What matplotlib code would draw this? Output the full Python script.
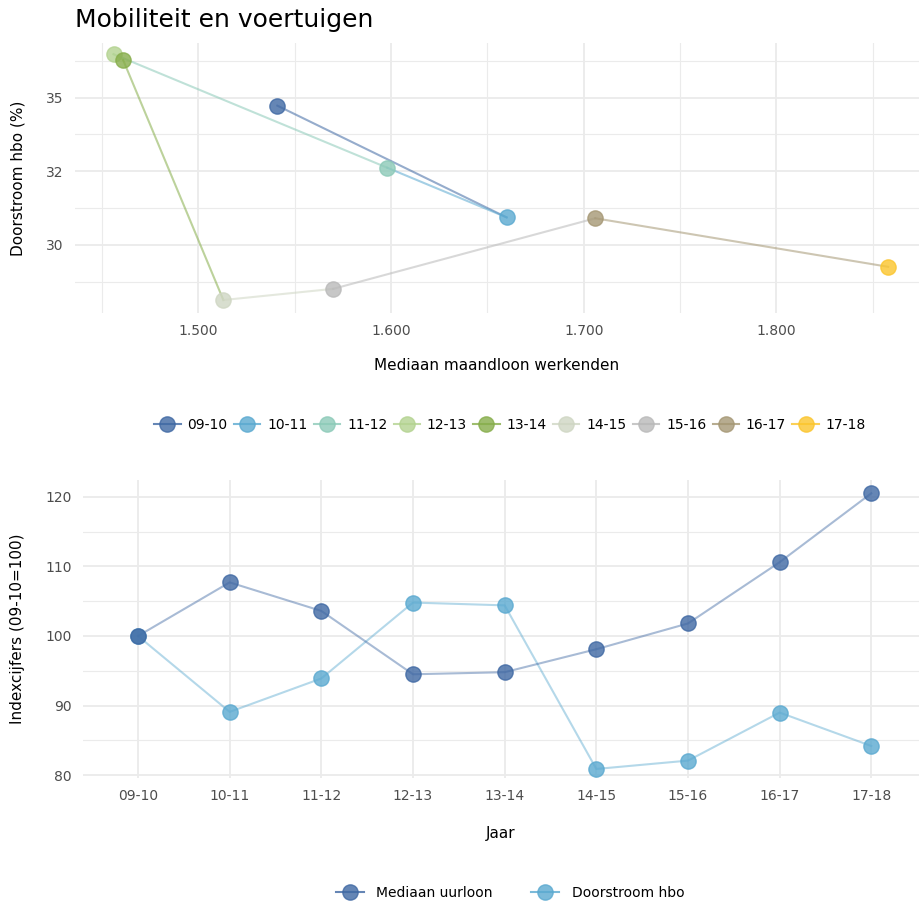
import matplotlib.pyplot as plt
from matplotlib.lines import Line2D
from matplotlib.ticker import FixedLocator

# Data
jaren = ['09-10', '10-11', '11-12', '12-13', '13-14', '14-15', '15-16', '16-17', '17-18']
maandloon = [1541, 1660, 1598, 1456, 1461, 1513, 1570, 1706, 1858]
doorstroom = [34.73, 30.93, 32.62, 36.48, 36.28, 28.12, 28.50, 30.90, 29.25]
jaar_kleuren = ['#3f68a3', '#5aa9d0', '#8ccab8', '#b3d390', '#86ad4a',
                '#cfd6c3', '#b9b9b9', '#a59774', '#fbc52c']

index_uurloon = [100, 107.7, 103.6, 94.5, 94.8, 98.1, 101.8, 110.6, 120.5]
index_doorstroom = [100, 89.1, 93.9, 104.8, 104.4, 80.9, 82.1, 89.0, 84.2]
reeks_namen = ['Mediaan uurloon', 'Doorstroom hbo']
reeks_kleuren = ['#3f68a3', '#5aa9d0']

x_ticks = [1500, 1600, 1700, 1800]
x_ticklabels = ['1.500', '1.600', '1.700', '1.800']
y_ticks = [30, 32.5, 35]
y_ticklabels = ['30', '32', '35']

plt.rcParams['font.family'] = ['DejaVu Sans']
grid_col = '#ebebeb'
tick_col = '#4d4d4d'


def style_axis(ax):
    for s in ax.spines.values():
        s.set_visible(False)
    ax.tick_params(length=0, colors=tick_col, labelsize=10, pad=8)
    ax.grid(True, which='major', color=grid_col, linewidth=1.3)
    ax.grid(True, which='minor', color=grid_col, linewidth=0.8)
    ax.set_axisbelow(True)


fig = plt.figure(figsize=(9.19, 9.09), dpi=100)

# Top: scatter path
ax1 = fig.add_axes([0.0816, 0.6557, 0.9184, 0.297])
style_axis(ax1)
for i in range(len(jaren) - 1):
    ax1.plot(maandloon[i:i + 2], doorstroom[i:i + 2], color=jaar_kleuren[i],
             alpha=0.55, linewidth=1.5, zorder=2)
for i in range(len(jaren)):
    ax1.plot(maandloon[i], doorstroom[i], 'o', ms=11, color=jaar_kleuren[i],
             mec=jaar_kleuren[i], alpha=0.8, zorder=3)
ax1.set_xlim(1436, 1874)
ax1.set_ylim(27.68, 36.86)
ax1.set_xticks(x_ticks)
ax1.set_xticklabels(x_ticklabels)
ax1.xaxis.set_minor_locator(FixedLocator([1450, 1550, 1650, 1750, 1850]))
ax1.set_yticks(y_ticks)
ax1.set_yticklabels(y_ticklabels)
ax1.yaxis.set_minor_locator(FixedLocator([28.75, 31.25, 33.75, 36.25]))
ax1.tick_params(which='minor', length=0)
ax1.set_xlabel('Mediaan maandloon werkenden', fontsize=11)
ax1.xaxis.set_label_coords(0.5, -0.167)
ax1.set_ylabel('Doorstroom hbo (%)', fontsize=11)
ax1.yaxis.set_label_coords(-0.059, 0.5)

fig.text(0.0816, 1 - 20 / 909, 'Mobiliteit en voertuigen', fontsize=18,
         va='center', ha='left')

handles1 = [Line2D([], [], color=c, marker='o', ms=11, alpha=0.8, linewidth=1.5)
            for c in jaar_kleuren]
fig.legend(handles1, jaren, loc='center', bbox_to_anchor=(0.555, 1 - 425 / 909),
           ncol=9, frameon=False, fontsize=10, handlelength=1.9,
           columnspacing=0.45, handletextpad=0.5)

# Bottom: index lines
ax2 = fig.add_axes([0.0903, 0.1441, 0.9097, 0.3278])
style_axis(ax2)
xs = list(range(len(jaren)))
for vals, kleur in zip([index_doorstroom, index_uurloon], reeks_kleuren[::-1]):
    ax2.plot(xs, vals, color=kleur, alpha=0.45, linewidth=1.5, zorder=2)
    ax2.plot(xs, vals, 'o', ms=11, color=kleur, alpha=0.8, zorder=3)
ax2.set_xlim(-0.6, 8.52)
ax2.set_ylim(79.6, 122.4)
ax2.set_xticks(xs)
ax2.set_xticklabels(jaren)
ax2.set_yticks([80, 90, 100, 110, 120])
ax2.yaxis.set_minor_locator(FixedLocator([85, 95, 105, 115]))
ax2.tick_params(which='minor', length=0)
ax2.set_xlabel('Jaar', fontsize=11)
ax2.xaxis.set_label_coords(0.5, -0.161)
ax2.set_ylabel('Indexcijfers (09-10=100)', fontsize=11)
ax2.yaxis.set_label_coords(-0.069, 0.5)

handles2 = [Line2D([], [], color=c, marker='o', ms=11, alpha=0.8, linewidth=1.5)
            for c in reeks_kleuren]
fig.legend(handles2, reeks_namen, loc='center', bbox_to_anchor=(0.555, 1 - 893 / 909),
           ncol=2, frameon=False, fontsize=10, handlelength=2.0,
           columnspacing=2.8, handletextpad=0.9)

fig.savefig('out.png', dpi=100)
